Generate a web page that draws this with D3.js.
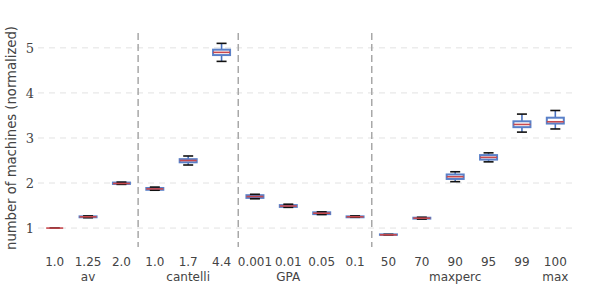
<!DOCTYPE html>
<html>
<head>
<meta charset="utf-8">
<script src="https://cdn.jsdelivr.net/npm/d3@7"></script>
<style>
  body { margin: 0; background: #fff; }
  text { fill: #444; }
</style>
</head>
<body>
<script>
"use strict";

var width = 598,
    height = 288;

// one entry per box, left to right
const categories = ["1.0", "1.25", "2.0", "1.0", "1.7", "4.4", "0.001", "0.01", "0.05", "0.1", "50", "70", "90", "95", "99", "100"];
const whiskerLow  = [1.0, 1.23, 1.97, 1.84, 2.40, 4.70, 1.65, 1.46, 1.30, 1.24, 0.85, 1.20, 2.03, 2.47, 3.13, 3.20];
const q1          = [1.0, 1.24, 1.98, 1.85, 2.46, 4.84, 1.67, 1.47, 1.31, 1.24, 0.85, 1.21, 2.09, 2.52, 3.24, 3.32];
const medians     = [1.0, 1.25, 1.99, 1.87, 2.50, 4.90, 1.70, 1.49, 1.33, 1.25, 0.85, 1.22, 2.14, 2.57, 3.30, 3.36];
const q3          = [1.0, 1.26, 2.01, 1.89, 2.53, 4.96, 1.73, 1.51, 1.35, 1.26, 0.86, 1.23, 2.19, 2.62, 3.37, 3.45];
const whiskerHigh = [1.0, 1.27, 2.02, 1.91, 2.60, 5.10, 1.75, 1.53, 1.36, 1.27, 0.86, 1.24, 2.25, 2.67, 3.53, 3.61];

// group label and the box index it sits under
const groupNames = ["av", "cantelli", "GPA", "maxperc", "max"];
const groupAt    = [1, 4, 7, 12, 15];
// separators sit before these box indices
const separators = [3, 6, 10];
const yTicks = [1, 2, 3, 4, 5];

let svg = d3.select("body").append("svg")
    .attr("width", width)
    .attr("height", height);

let x = d3.scaleBand()
    .domain(d3.range(categories.length))
    .range([38, 572]);

let y = d3.scaleLinear()
    .domain([0.58, 5.33])
    .range([247, 33]);

// horizontal grid
svg.append("g").selectAll("line")
    .data(yTicks)
    .enter()
    .append("line")
    .attr("x1", 38).attr("x2", 572)
    .attr("y1", d => y(d)).attr("y2", d => y(d))
    .attr("stroke", "#e2e2e2")
    .attr("stroke-width", 1)
    .attr("stroke-dasharray", "6,5");

// y tick labels
svg.append("g").selectAll("text")
    .data(yTicks)
    .enter()
    .append("text")
    .attr("x", 34)
    .attr("y", d => y(d))
    .attr("dy", "0.36em")
    .attr("text-anchor", "end")
    .attr("font-family", "DejaVu Serif")
    .attr("font-size", 13)
    .text(d => d);

svg.append("text")
    .attr("transform", "translate(16,138) rotate(-90)")
    .attr("text-anchor", "middle")
    .attr("font-family", "DejaVu Sans")
    .attr("font-size", 13.2)
    .text("number of machines (normalized)");

// group separators
svg.append("g").selectAll("line")
    .data(separators)
    .enter()
    .append("line")
    .attr("x1", d => x(d)).attr("x2", d => x(d))
    .attr("y1", 33).attr("y2", 247)
    .attr("stroke", "#a8a8a8")
    .attr("stroke-width", 1.5)
    .attr("stroke-dasharray", "7,4");

// boxes
let boxW = 17, capW = 10;
let boxes = svg.append("g").selectAll("g")
    .data(categories.map((c, i) => i))
    .enter()
    .append("g")
    .attr("transform", i => "translate(" + (x(i) + x.bandwidth() / 2) + ",0)");

boxes.append("line")
    .attr("x1", 0).attr("x2", 0)
    .attr("y1", i => y(whiskerLow[i])).attr("y2", i => y(whiskerHigh[i]))
    .attr("stroke", "#4a72c0")
    .attr("stroke-width", 1.6);

boxes.append("rect")
    .attr("x", -boxW / 2)
    .attr("width", boxW)
    .attr("y", i => y(q3[i]))
    .attr("height", i => y(q1[i]) - y(q3[i]))
    .attr("fill", "#fff")
    .attr("stroke", "#5a80c8")
    .attr("stroke-width", 2);

boxes.selectAll(".cap")
    .data(i => [whiskerLow[i], whiskerHigh[i]])
    .enter()
    .append("line")
    .attr("x1", -capW / 2).attr("x2", capW / 2)
    .attr("y1", d => y(d)).attr("y2", d => y(d))
    .attr("stroke", "#111")
    .attr("stroke-width", 1.6);

boxes.append("line")
    .attr("x1", -boxW / 2).attr("x2", boxW / 2)
    .attr("y1", i => y(medians[i])).attr("y2", i => y(medians[i]))
    .attr("stroke", "#c8494e")
    .attr("stroke-width", 1.6);

// x tick labels
svg.append("g").selectAll("text")
    .data(categories)
    .enter()
    .append("text")
    .attr("x", (d, i) => x(i) + x.bandwidth() / 2)
    .attr("y", 266)
    .attr("text-anchor", "middle")
    .attr("font-family", "DejaVu Sans")
    .attr("font-size", 12)
    .text(d => d);

svg.append("g").selectAll("text")
    .data(groupNames)
    .enter()
    .append("text")
    .attr("x", (d, i) => x(groupAt[i]) + x.bandwidth() / 2)
    .attr("y", 281)
    .attr("text-anchor", "middle")
    .attr("font-family", "DejaVu Sans")
    .attr("font-size", 12)
    .text(d => d);
</script>
</body>
</html>
